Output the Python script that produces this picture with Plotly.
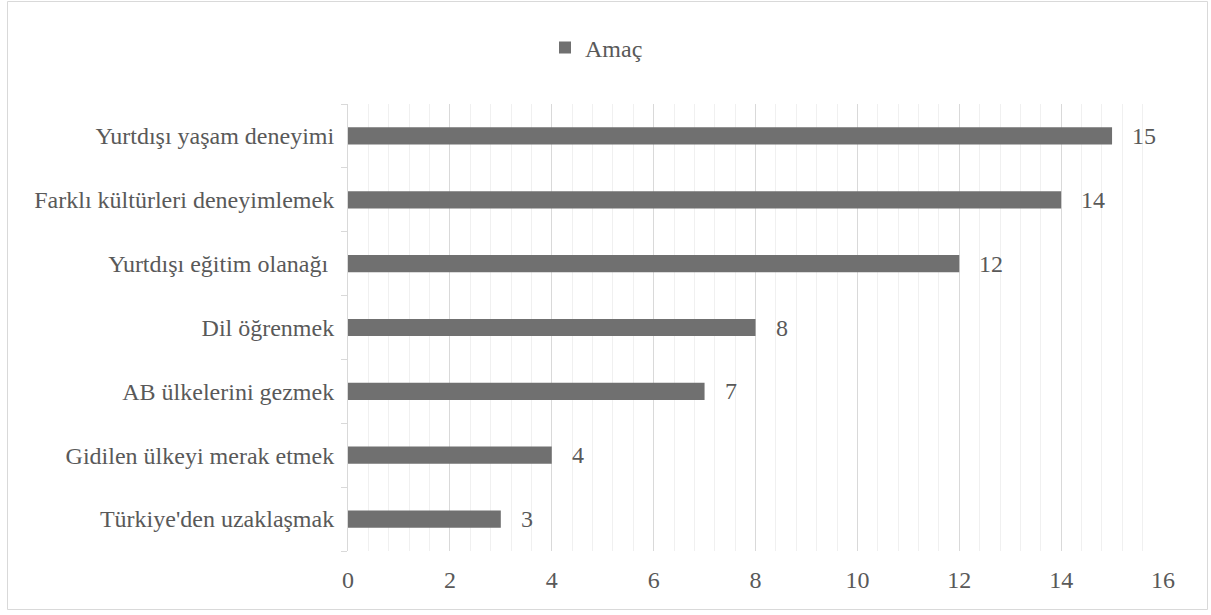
import plotly.graph_objects as go

categories = [
    "Türkiye'den uzaklaşmak",
    "Gidilen ülkeyi merak etmek",
    "AB ülkelerini gezmek",
    "Dil öğrenmek",
    "Yurtdışı eğitim olanağı ",
    "Farklı kültürleri deneyimlemek",
    "Yurtdışı yaşam deneyimi",
]
values = [3, 4, 7, 8, 12, 14, 15]
series_name = "Amaç"

W, H = 1211, 615
L, R, T, B = 348, 1163, 104, 551
pw, ph = R - L, B - T

def px_x(x):
    return (x - L) / pw

def px_y(y):
    return (B - y) / ph

font = dict(family="Times New Roman, Tinos, DejaVu Serif, serif", size=24, color="#595959")

fig = go.Figure()
fig.add_trace(go.Bar(
    x=values, y=categories, orientation="h", name=series_name,
    marker=dict(color="#707070", line=dict(width=0)),
    width=0.27,
))

for v, c in zip(values, categories):
    fig.add_annotation(x=v, y=c, text=str(v), showarrow=False,
                       xanchor="left", xshift=18, font=font)

fig.add_shape(type="rect", xref="paper", yref="paper",
              x0=px_x(7.5), x1=px_x(1207.5), y0=px_y(609.5), y1=px_y(1.5),
              line=dict(color="#d9d9d9", width=1), fillcolor="rgba(0,0,0,0)", layer="below")

fig.update_layout(
    width=W, height=H,
    margin=dict(l=L, r=W - R, t=T, b=H - B, pad=0),
    paper_bgcolor="white", plot_bgcolor="white",
    font=font,
    showlegend=True,
    legend=dict(orientation="h", x=px_x(545), xanchor="left", y=px_y(48), yanchor="middle",
                font=font, itemwidth=30),
    xaxis=dict(range=[0, 16], dtick=2, tick0=0, showgrid=True, gridcolor="#d9d9d9", gridwidth=1,
               zeroline=False, showline=False, ticks="", ticklabelstandoff=12,
               minor=dict(dtick=0.4, showgrid=True, gridcolor="#f0f0f0", gridwidth=1)),
    yaxis=dict(type="category", showgrid=False, zeroline=False, showline=True,
               linecolor="#d9d9d9", linewidth=1, ticks="outside", ticklen=6,
               tickcolor="#d9d9d9", tickson="boundaries", ticklabelstandoff=8),
)

fig.write_html("out.html", config={"displayModeBar": False},
               post_script="document.body.style.margin='0';")
